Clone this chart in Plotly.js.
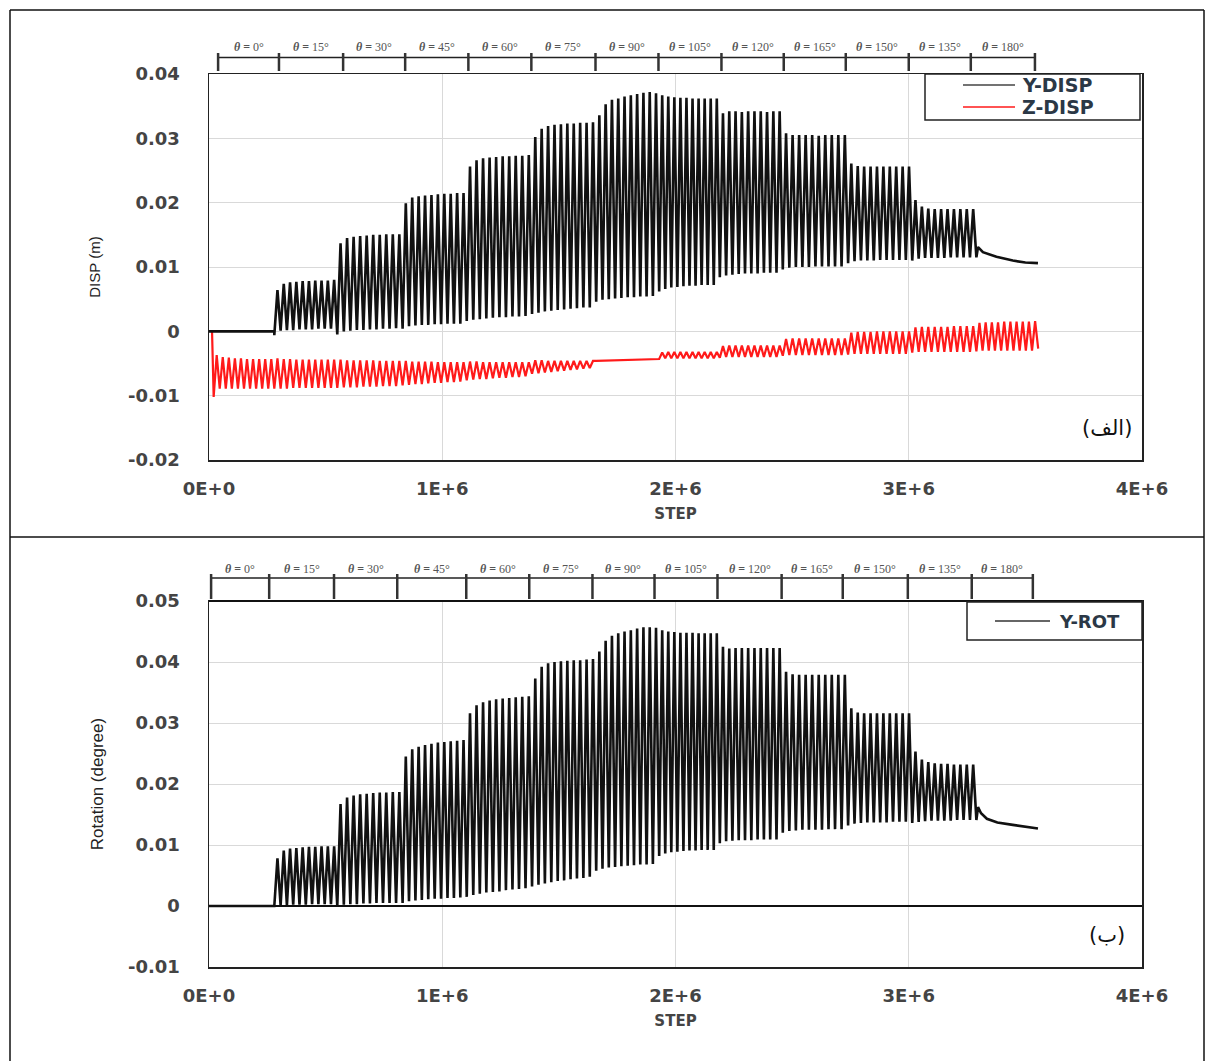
<!DOCTYPE html>
<html><head><meta charset="utf-8">
<script src="https://cdn.plot.ly/plotly-3.0.1.min.js"></script>
<style>body{margin:0;background:#fff}</style>
</head><body><div id="chart" style="width:1205px;height:1061px"></div>
<script>
// ---------- DATA ----------
// segment boundaries (STEP) of the loading stages theta = 15 ... 165
const segBounds = [0.28e6,0.55e6,0.83e6,1.105e6,1.385e6,1.66e6,1.93e6,2.19e6,2.46e6,2.74e6,3.015e6,3.29e6];
// theta = 0 stage (Y-DISP / Y-ROT at rest)
const restSteps = [0, 0.28e6];
const restValues = [0, 0];

// Y-DISP (m): peaks and troughs of each cycle, per stage
const yDispPeaks = [
 [0.0064,0.0074,0.0076,0.0077,0.0078,0.0078,0.0079,0.0079,0.0079,0.0080],
 [0.0137,0.0145,0.0147,0.0148,0.0149,0.0150,0.0150,0.0151,0.0151,0.0151],
 [0.0199,0.0208,0.0210,0.0211,0.0212,0.0213,0.0214,0.0214,0.0215,0.0215],
 [0.0256,0.0266,0.0269,0.0270,0.0271,0.0272,0.0272,0.0273,0.0273,0.0274],
 [0.0302,0.0315,0.0319,0.0321,0.0322,0.0323,0.0323,0.0324,0.0324,0.0325],
 [0.0336,0.0353,0.0360,0.0362,0.0365,0.0367,0.0369,0.0371,0.0372,0.0370],
 [0.0367,0.0365,0.0364,0.0363,0.0363,0.0362,0.0362,0.0362,0.0362,0.0362],
 [0.0339,0.0342,0.0342,0.0341,0.0342,0.0342,0.0342,0.0341,0.0342,0.0342],
 [0.0308,0.0305,0.0305,0.0305,0.0305,0.0304,0.0305,0.0305,0.0305,0.0305],
 [0.0261,0.0257,0.0256,0.0256,0.0256,0.0256,0.0256,0.0256,0.0256,0.0256],
 [0.0204,0.0194,0.0191,0.0190,0.0190,0.0190,0.0190,0.0190,0.0190,0.0190]
];
const yDispTroughs = [
 [-0.0006,0.0001,0.0002,0.0002,0.0003,0.0003,0.0003,0.0004,0.0004,0.0004],
 [-0.0005,0.0000,0.0001,0.0002,0.0002,0.0003,0.0003,0.0004,0.0004,0.0005],
 [0.0004,0.0008,0.0009,0.0010,0.0010,0.0011,0.0011,0.0012,0.0012,0.0012],
 [0.0016,0.0018,0.0019,0.0020,0.0021,0.0022,0.0022,0.0023,0.0023,0.0024],
 [0.0027,0.0029,0.0031,0.0032,0.0033,0.0034,0.0035,0.0036,0.0037,0.0037],
 [0.0046,0.0049,0.0050,0.0051,0.0052,0.0053,0.0053,0.0054,0.0054,0.0055],
 [0.0062,0.0066,0.0068,0.0069,0.0070,0.0071,0.0071,0.0072,0.0072,0.0072],
 [0.0084,0.0087,0.0088,0.0089,0.0090,0.0090,0.0090,0.0091,0.0091,0.0091],
 [0.0096,0.0099,0.0100,0.0100,0.0100,0.0101,0.0101,0.0101,0.0101,0.0101],
 [0.0106,0.0109,0.0110,0.0110,0.0110,0.0111,0.0111,0.0111,0.0111,0.0111],
 [0.0110,0.0113,0.0114,0.0114,0.0114,0.0114,0.0115,0.0115,0.0115,0.0115]
];
const yDispTailSteps = [3.29e6,3.297e6,3.318e6,3.376e6,3.446e6,3.50e6,3.554e6];
const yDispTail = [0.0115,0.0131,0.0123,0.0116,0.0110,0.0107,0.0106];

// Z-DISP (m)
const zStart = {steps:[0.013e6], values:[0]};
const zBoundsA = [0.02e6,0.28e6,0.55e6,0.83e6,1.105e6,1.385e6,1.66e6];
const zPeaksA = [
 [-0.0037,-0.0040,-0.0041,-0.0042,-0.0042,-0.0043,-0.0043,-0.0043,-0.0043,-0.0043],
 [-0.0042,-0.0043,-0.0043,-0.0044,-0.0044,-0.0044,-0.0044,-0.0044,-0.0044,-0.0044],
 [-0.0044,-0.0045,-0.0045,-0.0045,-0.0045,-0.0045,-0.0046,-0.0046,-0.0046,-0.0046],
 [-0.0046,-0.0047,-0.0047,-0.0047,-0.0047,-0.0048,-0.0048,-0.0048,-0.0048,-0.0048],
 [-0.0047,-0.0047,-0.0048,-0.0048,-0.0048,-0.0048,-0.0048,-0.0048,-0.0048,-0.0048],
 [-0.0045,-0.0045,-0.0046,-0.0046,-0.0046,-0.0046,-0.0046,-0.0046,-0.0046,-0.0046]
];
const zTroughsA = [
 [-0.0102,-0.0089,-0.0089,-0.0089,-0.0089,-0.0089,-0.0089,-0.0089,-0.0089,-0.0089],
 [-0.0089,-0.0089,-0.0089,-0.0088,-0.0088,-0.0088,-0.0088,-0.0088,-0.0088,-0.0088],
 [-0.0088,-0.0087,-0.0087,-0.0087,-0.0086,-0.0086,-0.0086,-0.0085,-0.0085,-0.0085],
 [-0.0084,-0.0083,-0.0082,-0.0082,-0.0081,-0.0080,-0.0080,-0.0079,-0.0079,-0.0078],
 [-0.0076,-0.0075,-0.0074,-0.0074,-0.0073,-0.0072,-0.0072,-0.0071,-0.0071,-0.0070],
 [-0.0066,-0.0065,-0.0064,-0.0063,-0.0062,-0.0061,-0.0060,-0.0059,-0.0058,-0.0057]
];
const zFlatSteps = [1.66e6,1.93e6];
const zFlatValues = [-0.0046,-0.0043];
const zBoundsB = [1.93e6,2.19e6,2.46e6,2.74e6,3.015e6,3.29e6,3.555e6];
const zPeaksB = [
 [-0.0033,-0.0032,-0.0032,-0.0032,-0.0032,-0.0032,-0.0032,-0.0032,-0.0032,-0.0032],
 [-0.0023,-0.0022,-0.0022,-0.0022,-0.0022,-0.0022,-0.0022,-0.0022,-0.0022,-0.0022],
 [-0.0012,-0.0011,-0.0011,-0.0011,-0.0011,-0.0011,-0.0011,-0.0011,-0.0011,-0.0011],
 [-0.0002,-0.0001,-0.0001,-0.0001,0.0000,0.0000,0.0000,0.0000,0.0000,0.0000],
 [0.0006,0.0007,0.0007,0.0007,0.0007,0.0007,0.0008,0.0008,0.0008,0.0008],
 [0.0013,0.0014,0.0014,0.0014,0.0015,0.0015,0.0015,0.0015,0.0015,0.0016]
];
const zTroughsB = [
 [-0.0043,-0.0042,-0.0042,-0.0042,-0.0042,-0.0042,-0.0042,-0.0042,-0.0042,-0.0042],
 [-0.0041,-0.0040,-0.0040,-0.0040,-0.0040,-0.0040,-0.0040,-0.0040,-0.0040,-0.0040],
 [-0.0038,-0.0037,-0.0037,-0.0037,-0.0037,-0.0037,-0.0037,-0.0037,-0.0037,-0.0037],
 [-0.0036,-0.0035,-0.0035,-0.0035,-0.0035,-0.0035,-0.0035,-0.0035,-0.0035,-0.0035],
 [-0.0033,-0.0032,-0.0032,-0.0032,-0.0032,-0.0032,-0.0032,-0.0032,-0.0032,-0.0032],
 [-0.0031,-0.0030,-0.0030,-0.0030,-0.0030,-0.0030,-0.0030,-0.0030,-0.0030,-0.0030]
];
const zEnd = {steps:[3.555e6], values:[-0.0027]};

// Y-ROT (degree)
const yRotPeaks = [
 [0.0078,0.0091,0.0094,0.0095,0.0096,0.0097,0.0097,0.0098,0.0098,0.0098],
 [0.0167,0.0178,0.0181,0.0183,0.0184,0.0185,0.0186,0.0186,0.0187,0.0187],
 [0.0245,0.0257,0.0261,0.0264,0.0266,0.0268,0.0269,0.0270,0.0271,0.0272],
 [0.0316,0.0329,0.0334,0.0337,0.0339,0.0340,0.0341,0.0342,0.0343,0.0344],
 [0.0373,0.0392,0.0398,0.0400,0.0401,0.0402,0.0403,0.0403,0.0404,0.0405],
 [0.0417,0.0435,0.0443,0.0447,0.0450,0.0452,0.0455,0.0457,0.0457,0.0456],
 [0.0452,0.0450,0.0449,0.0448,0.0448,0.0448,0.0447,0.0447,0.0447,0.0447],
 [0.0425,0.0422,0.0423,0.0423,0.0423,0.0423,0.0423,0.0423,0.0423,0.0423],
 [0.0384,0.0380,0.0379,0.0379,0.0379,0.0379,0.0379,0.0379,0.0379,0.0379],
 [0.0324,0.0317,0.0316,0.0316,0.0316,0.0316,0.0316,0.0316,0.0316,0.0316],
 [0.0253,0.0240,0.0236,0.0234,0.0233,0.0233,0.0232,0.0232,0.0232,0.0232]
];
const yRotTroughs = [
 [0.0000,0.0001,0.0001,0.0002,0.0002,0.0002,0.0003,0.0003,0.0003,0.0003],
 [0.0000,0.0002,0.0003,0.0003,0.0004,0.0004,0.0005,0.0005,0.0005,0.0005],
 [0.0005,0.0008,0.0009,0.0010,0.0011,0.0012,0.0012,0.0013,0.0013,0.0014],
 [0.0015,0.0018,0.0020,0.0022,0.0023,0.0024,0.0026,0.0027,0.0028,0.0029],
 [0.0032,0.0035,0.0037,0.0039,0.0041,0.0042,0.0044,0.0045,0.0046,0.0048],
 [0.0058,0.0061,0.0063,0.0064,0.0065,0.0066,0.0067,0.0068,0.0068,0.0069],
 [0.0082,0.0086,0.0088,0.0089,0.0090,0.0091,0.0091,0.0092,0.0092,0.0092],
 [0.0103,0.0106,0.0107,0.0108,0.0108,0.0108,0.0109,0.0109,0.0109,0.0109],
 [0.0120,0.0123,0.0124,0.0125,0.0125,0.0125,0.0125,0.0126,0.0126,0.0126],
 [0.0132,0.0135,0.0136,0.0137,0.0137,0.0137,0.0137,0.0138,0.0138,0.0138],
 [0.0136,0.0138,0.0139,0.0140,0.0140,0.0140,0.0140,0.0141,0.0141,0.0141]
];
const yRotTailSteps = [3.29e6,3.297e6,3.31e6,3.335e6,3.38e6,3.446e6,3.50e6,3.554e6];
const yRotTail = [0.0141,0.0162,0.0152,0.0143,0.0137,0.0133,0.0130,0.0127];

// theta stage rulers above each panel
const thetaLabels = ['0','15','30','45','60','75','90','105','120','165','150','135','180'];
const rulerTop = [0.039e6,0.30e6,0.575e6,0.841e6,1.112e6,1.382e6,1.657e6,1.927e6,2.197e6,2.464e6,2.730e6,3.0e6,3.266e6,3.541e6];
const rulerBottom = [0.009e6,0.258e6,0.536e6,0.807e6,1.103e6,1.373e6,1.644e6,1.910e6,2.180e6,2.455e6,2.717e6,2.996e6,3.270e6,3.532e6];

const xTickVals = [0,1e6,2e6,3e6,4e6];
const xTickText = ['0E+0','1E+6','2E+6','3E+6','4E+6'];
const yTopVals = [-0.02,-0.01,0,0.01,0.02,0.03,0.04];
const yTopText = ['-0.02','-0.01','0','0.01','0.02','0.03','0.04'];
const yBotVals = [-0.01,0,0.01,0.02,0.03,0.04,0.05];
const yBotText = ['-0.01','0','0.01','0.02','0.03','0.04','0.05'];

// ---------- BUILD ----------
function cycles(bounds, peaks, troughs, xs, ys){
  for(let i=0;i<peaks.length;i++){
    const n = peaks[i].length, T = (bounds[i+1]-bounds[i])/n;
    for(let k=0;k<n;k++){
      xs.push(bounds[i]+k*T); ys.push(troughs[i][k]);
      xs.push(bounds[i]+(k+0.5)*T); ys.push(peaks[i][k]);
    }
  }
}
function series(pre, bounds, peaks, troughs, postX, postY){
  const xs=[...pre[0]], ys=[...pre[1]];
  cycles(bounds, peaks, troughs, xs, ys);
  xs.push(...postX); ys.push(...postY);
  return [xs, ys];
}
const yd = series([restSteps,restValues], segBounds, yDispPeaks, yDispTroughs, yDispTailSteps, yDispTail);
const yr = series([restSteps,restValues], segBounds, yRotPeaks, yRotTroughs, yRotTailSteps, yRotTail);
const zx=[...zStart.steps], zy=[...zStart.values];
cycles(zBoundsA, zPeaksA, zTroughsA, zx, zy);
zx.push(...zFlatSteps); zy.push(...zFlatValues);
cycles(zBoundsB, zPeaksB, zTroughsB, zx, zy);
zx.push(...zEnd.steps); zy.push(...zEnd.values);

const W=1205, H=1061;
const X = px => px/W, Y = py => 1-py/H;

const traces = [
  {x:zx, y:zy, xaxis:'x', yaxis:'y', mode:'lines', line:{color:'#ff1a1a', width:2.2}, name:'Z-DISP', showlegend:false},
  {x:yd[0], y:yd[1], xaxis:'x', yaxis:'y', mode:'lines', line:{color:'#111', width:2.6}, name:'Y-DISP', showlegend:false},
  {x:yr[0], y:yr[1], xaxis:'x2', yaxis:'y2', mode:'lines', line:{color:'#111', width:2.6}, name:'Y-ROT', showlegend:false}
];

const tickFont = {family:'DejaVu Sans', size:18, color:'#444', weight:'bold'};
const gridC = '#d9d9d9';
const xDom = [X(209), X(1142)];
function xAxis(anchor){
  return {domain:xDom, anchor:anchor, range:[0,4e6], tickvals:xTickVals, ticktext:xTickText,
    showgrid:true, gridcolor:gridC, gridwidth:1, zeroline:false, showline:true, linecolor:'#222', linewidth:1.5,
    mirror:true, ticks:'', ticklabelstandoff:12, tickfont:tickFont,
    title:{text:'STEP', font:{family:'DejaVu Sans', size:15, color:'#444', weight:'bold'}, standoff:10}};
}
const layout = {
  width:W, height:H, autosize:false, margin:{l:0,r:0,t:0,b:0},
  paper_bgcolor:'#fff', plot_bgcolor:'#fff', showlegend:false,
  xaxis: xAxis('y'),
  xaxis2: xAxis('y2'),
  yaxis: {domain:[Y(460), Y(74)], anchor:'x', range:[-0.02,0.04], tickvals:yTopVals, ticktext:yTopText,
    showgrid:true, gridcolor:gridC, zeroline:false, showline:true, linecolor:'#222', linewidth:1.5, mirror:true,
    ticks:'', ticklabelstandoff:24, tickfont:tickFont,
    title:{text:'DISP (m)', font:{family:'Liberation Sans', size:15, color:'#222'}, standoff:24}},
  yaxis2: {domain:[Y(967), Y(601)], anchor:'x2', range:[-0.01,0.05], tickvals:yBotVals, ticktext:yBotText,
    showgrid:true, gridcolor:gridC, zeroline:true, zerolinecolor:'#111', zerolinewidth:2,
    showline:true, linecolor:'#222', linewidth:1.5, mirror:true,
    ticks:'', ticklabelstandoff:24, tickfont:tickFont,
    title:{text:'Rotation (degree)', font:{family:'Liberation Sans', size:17, color:'#222'}, standoff:20}},
  shapes:[], annotations:[]
};

// outer figure frame
const frame = {color:'#111', width:1.5};
layout.shapes.push({type:'line', xref:'paper', yref:'paper', x0:X(10), x1:X(1204), y0:Y(10), y1:Y(10), line:frame});
layout.shapes.push({type:'line', xref:'paper', yref:'paper', x0:X(10), x1:X(10), y0:Y(10), y1:Y(1061), line:frame});
layout.shapes.push({type:'line', xref:'paper', yref:'paper', x0:X(1204), x1:X(1204), y0:Y(10), y1:Y(1061), line:frame});
layout.shapes.push({type:'line', xref:'paper', yref:'paper', x0:X(10), x1:X(1204), y0:Y(537), y1:Y(537), line:frame});
// thicker top border of lower plot
layout.shapes.push({type:'line', xref:'paper', yref:'paper', x0:X(209), x1:X(1142), y0:Y(601), y1:Y(601), line:{color:'#111', width:2}});

// rulers
function ruler(xref, ticks, lineY, t0, t1, labY){
  layout.shapes.push({type:'line', xref:xref, yref:'paper', x0:ticks[0], x1:ticks[ticks.length-1], y0:Y(lineY), y1:Y(lineY), line:{color:'#222', width:1.5}});
  ticks.forEach(t=>{
    layout.shapes.push({type:'line', xref:xref, yref:'paper', x0:t, x1:t, y0:Y(t0), y1:Y(t1), line:{color:'#333', width:2.5}});
  });
  for(let i=0;i<thetaLabels.length;i++){
    layout.annotations.push({xref:xref, yref:'paper', x:(ticks[i]+ticks[i+1])/2, y:Y(labY), xanchor:'center', yanchor:'middle', showarrow:false,
      text:'<b><i>θ</i> =</b> '+thetaLabels[i]+'°', font:{family:'Liberation Serif', size:12, color:'#555'}});
  }
}
ruler('x', rulerTop, 57.5, 53, 71, 47);
ruler('x2', rulerBottom, 578, 574, 599, 569);

// legends (drawn)
const box = {color:'#222', width:1.5};
const legFont = {family:'DejaVu Sans', size:19, color:'#2b3846', weight:'bold'};
layout.shapes.push({type:'rect', xref:'paper', yref:'paper', x0:X(925), x1:X(1140), y0:Y(120), y1:Y(74), line:box, fillcolor:'#fff', layer:'above'});
layout.shapes.push({type:'line', xref:'paper', yref:'paper', x0:X(963), x1:X(1015), y0:Y(85), y1:Y(85), line:{color:'#444', width:1.5}});
layout.shapes.push({type:'line', xref:'paper', yref:'paper', x0:X(963), x1:X(1015), y0:Y(107), y1:Y(107), line:{color:'#ff1a1a', width:1.5}});
layout.annotations.push({xref:'paper', yref:'paper', x:X(1020), y:Y(85), xanchor:'left', yanchor:'middle', showarrow:false, text:'Y-DISP', font:legFont});
layout.annotations.push({xref:'paper', yref:'paper', x:X(1020), y:Y(107), xanchor:'left', yanchor:'middle', showarrow:false, text:'Z-DISP', font:legFont});

layout.shapes.push({type:'rect', xref:'paper', yref:'paper', x0:X(967), x1:X(1142), y0:Y(640), y1:Y(602), line:box, fillcolor:'#fff', layer:'above'});
layout.shapes.push({type:'line', xref:'paper', yref:'paper', x0:X(995), x1:X(1050), y0:Y(621), y1:Y(621), line:{color:'#333', width:1.5}});
layout.annotations.push({xref:'paper', yref:'paper', x:X(1057), y:Y(621), xanchor:'left', yanchor:'middle', showarrow:false, text:'Y-ROT', font:{family:'DejaVu Sans', size:18, color:'#2b3846', weight:'bold'}});

// panel tags
layout.annotations.push({xref:'paper', yref:'paper', x:X(1107), y:Y(428), xanchor:'center', yanchor:'middle', showarrow:false, text:'(الف)', font:{family:'DejaVu Sans', size:21, color:'#111'}});
layout.annotations.push({xref:'paper', yref:'paper', x:X(1107), y:Y(935), xanchor:'center', yanchor:'middle', showarrow:false, text:'(ب)', font:{family:'DejaVu Sans', size:21, color:'#111'}});

Plotly.newPlot('chart', traces, layout, {staticPlot:true, displayModeBar:false});
</script></body></html>
